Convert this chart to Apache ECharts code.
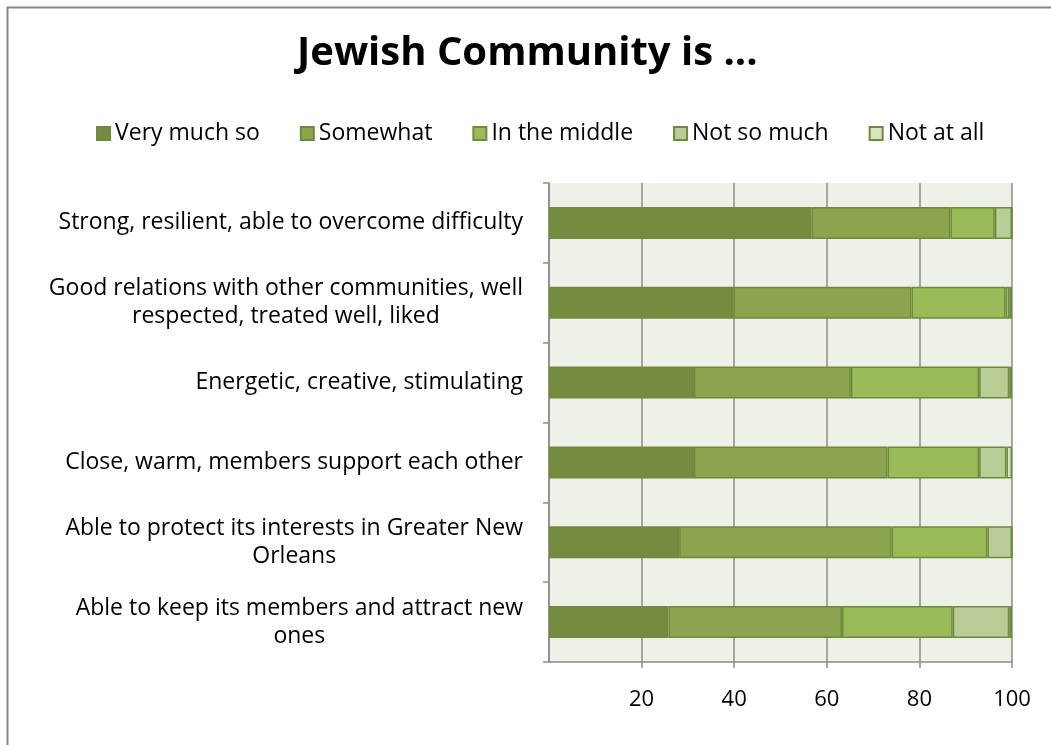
<!DOCTYPE html>
<html>
<head>
<meta charset="utf-8">
<script src="https://cdn.jsdelivr.net/npm/echarts@6/dist/echarts.min.js"></script>
<style>
  html, body { margin: 0; padding: 0; background: #fff; }
  #chart { width: 1051px; height: 745px; }
</style>
</head>
<body>
<div id="chart"></div>
<script>
// Statements, top to bottom
const categories = [
  'Strong, resilient, able to overcome difficulty',
  'Good relations with other communities, well\nrespected, treated well, liked',
  'Energetic, creative, stimulating',
  'Close, warm, members support each other',
  'Able to protect its interests in Greater New\nOrleans',
  'Able to keep its members and attract new\nones'
];

const seriesNames = ['Very much so', 'Somewhat', 'In the middle', 'Not so much', 'Not at all'];

// Percent of respondents per answer, in category order
const veryMuchSo  = [56.7, 39.8, 31.3, 31.3, 28.1, 25.8];
const somewhat    = [30.0, 38.5, 33.9, 41.8, 45.9, 37.5];
const inTheMiddle = [ 9.6, 20.3, 27.7, 19.8, 20.7, 23.9];
const notSoMuch   = [ 3.7,  0.8,  6.5,  5.9,  5.3, 12.2];
const notAtAll    = [ 0.0,  0.6,  0.6,  1.2,  0.0,  0.6];

const xTicks = [0, 20, 40, 60, 80, 100];

const seriesValues = [veryMuchSo, somewhat, inTheMiddle, notSoMuch, notAtAll];
const colors = ['#748b40', '#8aa54e', '#9bbb59', '#b9ce96', '#d7e4bd'];
const FONT = '"Open Sans"';

const chart = echarts.init(document.getElementById('chart'));

chart.setOption({
  animation: false,
  backgroundColor: '#ffffff',
  textStyle: { fontFamily: FONT },
  graphic: [{
    type: 'rect',
    shape: { x: 7.5, y: 7.5, width: 1200, height: 900 },
    style: { fill: 'none', stroke: '#868686', lineWidth: 2 },
    silent: true,
    z: 100
  }],
  title: {
    text: 'Jewish Community is ...',
    left: 292,
    top: 29,
    textStyle: { fontFamily: FONT, fontSize: 40, fontWeight: 'bold', color: '#000' }
  },
  legend: {
    data: seriesNames,
    top: 117,
    left: 91,
    icon: 'rect',
    itemWidth: 13,
    itemHeight: 13,
    itemGap: 40,
    textStyle: { fontFamily: FONT, fontSize: 23, color: '#000' }
  },
  grid: {
    left: 549,
    right: 39,
    top: 183,
    bottom: 83,
    show: true,
    backgroundColor: '#eef1e8',
    borderWidth: 0
  },
  xAxis: {
    type: 'value',
    min: xTicks[0],
    max: xTicks[xTicks.length - 1],
    interval: xTicks[1] - xTicks[0],
    axisLine: { show: true, lineStyle: { color: '#8c8c8c', width: 1.5 } },
    axisTick: { show: true, length: 6, lineStyle: { color: '#8c8c8c', width: 1.5 } },
    splitLine: { show: true, lineStyle: { color: '#8c8c8c', width: 1.5 } },
    axisLabel: {
      showMinLabel: false,
      margin: 27,
      fontFamily: FONT,
      fontSize: 22,
      color: '#000'
    }
  },
  yAxis: {
    type: 'category',
    data: categories,
    inverse: true,
    axisLine: { show: true, lineStyle: { color: '#8c8c8c', width: 1.5 } },
    axisTick: { show: true, length: 6, lineStyle: { color: '#8c8c8c', width: 1.5 } },
    axisLabel: {
      margin: 26,
      color: '#000',
      formatter: function (v) {
        return v.split('\n').map(function (l) { return '{c|' + l + '}'; }).join('\n');
      },
      rich: {
        c: { fontFamily: FONT, fontSize: 23, color: '#000', align: 'center', lineHeight: 28 }
      }
    }
  },
  series: seriesNames.map(function (name, i) {
    return {
      name: name,
      type: 'bar',
      stack: 'total',
      barWidth: '40%',
      data: seriesValues[i],
      itemStyle: { color: colors[i], borderColor: '#6e8a3a', borderWidth: 1.5 }
    };
  })
});
</script>
</body>
</html>
